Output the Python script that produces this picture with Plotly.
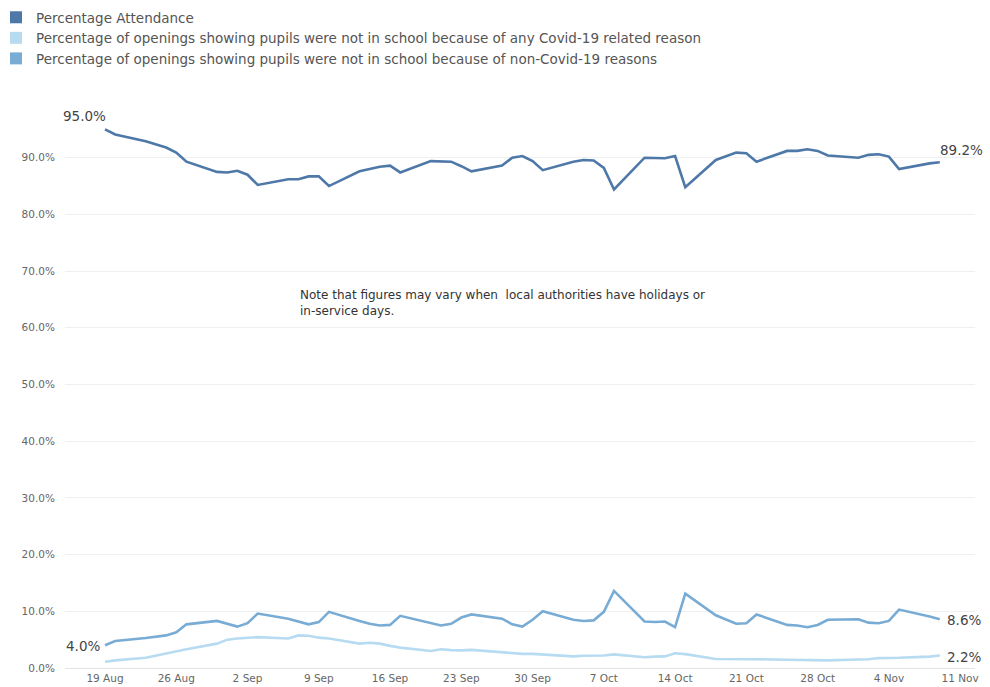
import plotly.graph_objects as go
import pandas as pd

# ---------------- data ----------------
dates = [
    "2020-08-19", "2020-08-20", "2020-08-23", "2020-08-24", "2020-08-25", "2020-08-26", "2020-08-27",
    "2020-08-30", "2020-08-31", "2020-09-01", "2020-09-02", "2020-09-03",
    "2020-09-06", "2020-09-07", "2020-09-08", "2020-09-09", "2020-09-10",
    "2020-09-13", "2020-09-14", "2020-09-15", "2020-09-16", "2020-09-17",
    "2020-09-20", "2020-09-21", "2020-09-22", "2020-09-23", "2020-09-24",
    "2020-09-27", "2020-09-28", "2020-09-29", "2020-09-30", "2020-10-01",
    "2020-10-04", "2020-10-05", "2020-10-06", "2020-10-07", "2020-10-08",
    "2020-10-11", "2020-10-12", "2020-10-13", "2020-10-14", "2020-10-15",
    "2020-10-18", "2020-10-19", "2020-10-20", "2020-10-21", "2020-10-22",
    "2020-10-25", "2020-10-26", "2020-10-27", "2020-10-28", "2020-10-29",
    "2020-11-01", "2020-11-02", "2020-11-03", "2020-11-04", "2020-11-05",
    "2020-11-08", "2020-11-09",
]

attendance = [
    95.0, 94.1, 92.9, 92.4, 91.8, 90.9, 89.3,
    87.5, 87.4, 87.7, 87.0, 85.2,
    86.2, 86.2, 86.7, 86.7, 85.0,
    87.6, 88.0, 88.4, 88.6, 87.4,
    89.4, 89.4, 89.3, 88.5, 87.6,
    88.6, 90.0, 90.3, 89.4, 87.8,
    89.3, 89.6, 89.5, 88.2, 84.4,
    90.0, 90.0, 89.9, 90.3, 84.8,
    89.6, 90.2, 90.9, 90.8, 89.3,
    91.2, 91.2, 91.5, 91.2, 90.4,
    90.0, 90.5, 90.6, 90.2, 88.0,
    89.0, 89.2,
]

covid = [
    1.1, 1.35, 1.8, 2.2, 2.5, 2.9, 3.3,
    4.3, 5.0, 5.2, 5.3, 5.45,
    5.2, 5.75, 5.7, 5.35, 5.2,
    4.3, 4.45, 4.3, 3.9, 3.6,
    3.0, 3.3, 3.15, 3.1, 3.2,
    2.7, 2.6, 2.5, 2.5, 2.4,
    2.05, 2.15, 2.15, 2.2, 2.4,
    1.9, 2.0, 2.05, 2.6, 2.45,
    1.6, 1.6, 1.55, 1.5, 1.55,
    1.45, 1.45, 1.4, 1.4, 1.35,
    1.5, 1.55, 1.75, 1.75, 1.8,
    2.0, 2.2,
]

non_covid = [
    4.0, 4.75, 5.3, 5.5, 5.75, 6.3, 7.7,
    8.3, 7.75, 7.3, 7.9, 9.6,
    8.7, 8.2, 7.7, 8.1, 9.9,
    8.3, 7.8, 7.5, 7.6, 9.2,
    7.9, 7.5, 7.8, 8.9, 9.45,
    8.7, 7.7, 7.3, 8.5, 10.0,
    8.5, 8.3, 8.4, 9.9, 13.6,
    8.2, 8.1, 8.2, 7.2, 13.1,
    9.3, 8.5, 7.8, 7.9, 9.45,
    7.6, 7.5, 7.2, 7.6, 8.5,
    8.6, 8.0, 7.9, 8.3, 10.3,
    9.1, 8.6,
]

series_names = [
    "Percentage Attendance",
    "Percentage of openings showing pupils were not in school because of any Covid-19 related reason",
    "Percentage of openings showing pupils were not in school because of non-Covid-19 reasons",
]

x_tick_dates = ["2020-08-19", "2020-08-26", "2020-09-02", "2020-09-09", "2020-09-16", "2020-09-23",
                "2020-09-30", "2020-10-07", "2020-10-14", "2020-10-21", "2020-10-28", "2020-11-04",
                "2020-11-11"]
x_tick_labels = ["19 Aug", "26 Aug", "2 Sep", "9 Sep", "16 Sep", "23 Sep", "30 Sep", "7 Oct",
                 "14 Oct", "21 Oct", "28 Oct", "4 Nov", "11 Nov"]
y_tick_values = [0, 10, 20, 30, 40, 50, 60, 70, 80, 90, 100]
y_tick_labels = ["0.0%", "10.0%", "20.0%", "30.0%", "40.0%", "50.0%", "60.0%", "70.0%",
                 "80.0%", "90.0%", ""]

note_text = ("Note that figures may vary when  local authorities have holidays or<br>"
             "in-service days.")

# ---------------- styling ----------------
C_ATT = "#4e78a8"
C_COV = "#b7dbf1"
C_NON = "#79acd4"
FONT = "DejaVu Sans"
TXT = "#555555"

fig = go.Figure()

series = [(attendance, C_ATT), (covid, C_COV), (non_covid, C_NON)]
for (vals, col), name in zip(series, series_names):
    fig.add_trace(go.Scatter(
        x=dates, y=vals, mode="lines", name=name, showlegend=False,
        line=dict(color=col, width=2.6, shape="linear"),
        hovertemplate="%{x|%d %b}: %{y:.1f}%<extra></extra>",
    ))

# legend entries drawn as squares
for (vals, col), name in zip(series, series_names):
    fig.add_trace(go.Scatter(
        x=[None], y=[None], mode="markers", name=name, showlegend=True,
        marker=dict(symbol="square", size=12, color=col),
    ))

lab_font = dict(family=FONT, size=13.5, color="#444444")
fig.add_annotation(x=dates[0], y=attendance[0], text=f"{attendance[0]:.1f}%", showarrow=False,
                   xanchor="right", yanchor="bottom", xshift=3, yshift=3, font=lab_font)
fig.add_annotation(x=dates[-1], y=attendance[-1], text=f"{attendance[-1]:.1f}%", showarrow=False,
                   xanchor="left", yanchor="bottom", xshift=-2, yshift=2, font=lab_font)
fig.add_annotation(x=dates[0], y=non_covid[0], text=f"{non_covid[0]:.1f}%", showarrow=False,
                   xanchor="right", yanchor="middle", xshift=-3, yshift=-1, font=lab_font)
fig.add_annotation(x=dates[-1], y=non_covid[-1], text=f"{non_covid[-1]:.1f}%", showarrow=False,
                   xanchor="left", yanchor="middle", xshift=5, yshift=-1, font=lab_font)
fig.add_annotation(x=dates[-1], y=covid[-1], text=f"{covid[-1]:.1f}%", showarrow=False,
                   xanchor="left", yanchor="middle", xshift=5, yshift=-1, font=lab_font)

fig.add_annotation(xref="paper", yref="paper", x=(298 - 65) / 910, y=(667.6 - 286) / 566.7,
                   text=note_text, showarrow=False, xanchor="left", yanchor="top", align="left",
                   font=dict(family=FONT, size=12, color="#333333"))

base = pd.Timestamp("2020-08-19")
x_start = base + pd.Timedelta(days=-3.93)
x_end = base + pd.Timedelta(days=85.46)

fig.update_layout(
    width=990, height=687,
    margin=dict(l=65, r=15, t=101, b=19, autoexpand=False),
    paper_bgcolor="white", plot_bgcolor="white",
    font=dict(family=FONT, size=11, color=TXT),
    showlegend=True,
    legend=dict(
        xref="paper", yref="container", x=(-4 - 65) / 910, y=1.0 - 2 / 687,
        xanchor="left", yanchor="top",
        orientation="v", font=dict(family=FONT, size=13.5, color="#555555"),
        bgcolor="rgba(0,0,0,0)", borderwidth=0, tracegroupgap=0, itemwidth=30,
        itemclick=False, itemdoubleclick=False,
    ),
    xaxis=dict(
        type="date", range=[x_start, x_end], tickmode="array",
        tickvals=x_tick_dates, ticktext=x_tick_labels,
        showgrid=False, zeroline=False,
        showline=True, linecolor="#e3e3e3", linewidth=1,
        ticks="", ticklen=0,
        tickfont=dict(family=FONT, size=10.5, color="#666666"),
        automargin=False, fixedrange=True,
    ),
    yaxis=dict(
        range=[0, 100], tickmode="array", tickvals=y_tick_values, ticktext=y_tick_labels,
        showgrid=True, gridcolor="#f0f0f0", gridwidth=1, zeroline=False, showline=False,
        ticks="outside", ticklen=7, tickcolor="rgba(0,0,0,0)",
        tickfont=dict(family=FONT, size=10.5, color="#666666"),
        automargin=False, fixedrange=True,
    ),
)

fig.write_html("out.html", post_script="document.body.style.margin='0';",
               config={"displayModeBar": False})
